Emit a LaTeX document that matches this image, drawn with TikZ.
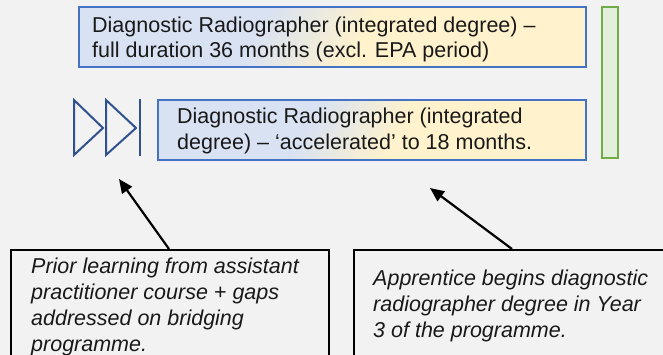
\documentclass[tikz,border=0pt]{standalone}
\usepackage{fontspec}
\setmainfont{Liberation Sans}
\usetikzlibrary{arrows.meta}
\definecolor{bg}{HTML}{F2F2F2}
\definecolor{boxblue}{HTML}{4472C4}
\definecolor{fillblue}{HTML}{D9E2F3}
\definecolor{fillyellow}{HTML}{FFF2CC}
\definecolor{bargreen}{HTML}{70AD47}
\definecolor{fillgreen}{HTML}{E2EFDA}
\definecolor{navy}{HTML}{2F528F}
\pgfdeclarehorizontalshading{bluegold}{100bp}{color(0bp)=(fillblue); color(40bp)=(fillblue); color(54bp)=(fillyellow); color(100bp)=(fillyellow)}
\tikzset{
  bluebox/.style={draw=boxblue, line width=2pt, rectangle, inner sep=0pt, anchor=north west, shading=bluegold, shading angle=-28},
  greenbar/.style={draw=bargreen, fill=fillgreen, line width=1.8pt, rectangle, inner sep=0pt, anchor=north west},
  notebox/.style={draw=black, line width=1.6pt, rectangle, inner sep=0pt, anchor=north west},
  boxtext/.style={inner sep=0pt, anchor=base west, align=left, font=\fontsize{21.5}{25}\selectfont, text=black!90},
  notetext/.style={inner sep=0pt, anchor=base west, align=left, font=\fontsize{21.5}{26}\selectfont\itshape, text=black!90},
  pointer/.style={draw=black, line width=2.2pt, -{Triangle[length=14pt,width=12pt]}},
  ffwd/.style={draw=navy, line width=2pt, line join=miter}
}
\begin{document}
\begin{tikzpicture}[x=1pt,y=-1pt]
\useasboundingbox (0,0) rectangle (663,355);
\fill[bg] (0,0) rectangle (663,355);
\clip (0,0) rectangle (663,355);

% blue boxes (text anchors: baseline of last line)
\node[bluebox, minimum width=507pt, minimum height=60pt] (full) at (78,6.5) {};
\node[boxtext] (fulltxt) at (92,57.3) {Diagnostic Radiographer (integrated degree) –\\full duration 36 months (excl. EPA period)};

\node[bluebox, minimum width=428pt, minimum height=60pt] (accel) at (157,99) {};
\node[boxtext, font=\fontsize{21.5}{26}\selectfont] (acceltxt) at (177,149.5) {Diagnostic Radiographer (integrated\\degree) – ‘accelerated’ to 18 months.};

% green bar
\node[greenbar, minimum width=16pt, minimum height=151pt] (bar) at (601,6) {};

% fast-forward symbol
\draw[ffwd] (74,100) -- (103,128) -- (74,155) -- cycle;
\draw[ffwd] (106,100) -- (136,128) -- (106,155) -- cycle;
\draw[ffwd] (140,99) -- (140,156);

% note boxes
\node[notebox, minimum width=318pt, minimum height=130pt] (prior) at (10,249) {};
\node[notetext] (priortxt) at (31,351) {Prior learning from assistant\\practitioner course + gaps\\addressed on bridging\\programme.};

\node[notebox, minimum width=340pt, minimum height=130pt] (begins) at (353,249) {};
\node[notetext] (beginstxt) at (373,337.5) {Apprentice begins diagnostic\\radiographer degree in Year\\3 of the programme.};

% arrows
\coordinate (startA) at (169,249);
\coordinate (tipA) at (119,179);
\coordinate (startB) at (512,249);
\coordinate (tipB) at (430,188);
\draw[pointer] (startA) -- (tipA);
\draw[pointer] (startB) -- (tipB);
\end{tikzpicture}
\end{document}
